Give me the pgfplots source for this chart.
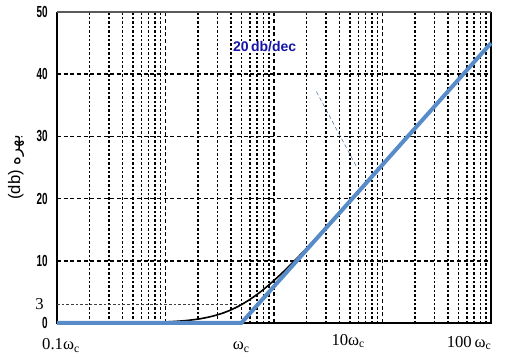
\documentclass[border=0pt]{standalone}
\usepackage{pgfplots}
\pgfplotsset{compat=1.18}
\usepackage{fontspec}
\setmainfont{Liberation Serif}
\setsansfont{Liberation Sans}
\newfontfamily\arabicfont[Script=Arabic]{DejaVu Sans}
\TeXXeTstate=1
\definecolor{bodeblue}{RGB}{88,140,200}
\definecolor{txtblue}{RGB}{20,20,170}
\newcommand\yl[1]{\scalebox{0.62}[1]{\sffamily\bfseries #1}}
\newcommand\wc{ω\textsubscript{c}}
\begin{document}
\begin{tikzpicture}
\begin{axis}[name=ax, scale only axis, width=325.5pt, height=233.25pt,
  xmode=log, xmin=1, xmax=10000, ymin=0, ymax=50, clip=false,
  axis line style={draw=none},
  xtick={1,10,100,1000,10000}, xticklabels={},
  minor xtick={2,3,4,5,6,7,8,9,20,30,40,50,60,70,80,90,200,300,400,500,600,700,800,900,2000,3000,4000,5000,6000,7000,8000,9000},
  ytick={0,10,20,30,40,50},
  yticklabels={\yl{0},\yl{10},\yl{20},\yl{30},\yl{40},\yl{50}},
  yticklabel style={font=\fontsize{12}{14}\selectfont, anchor=east, inner sep=0pt, xshift=-6.75pt},
  xmajorgrids, xminorgrids, ymajorgrids,
  major grid style={black, line width=1.3pt, dash pattern=on 3pt off 2pt},
  minor grid style={black, line width=1.1pt, dash pattern=on 1.8pt off 1.5pt},
  major tick length=0pt, minor tick length=0pt,
  extra x ticks={1.09,50,484,6280},
  extra x tick labels={0.1\wc,\wc,\raisebox{3.4pt}{10\wc},\raisebox{1.9pt}{100\,\wc}},
  extra x tick style={grid=none, major tick length=0pt,
    xticklabel style={font=\fontsize{12.5}{14}\selectfont, anchor=base, inner sep=0pt, yshift=-20.25pt}},
  extra y ticks={3},
  extra y tick labels={3},
  extra y tick style={grid=none, major tick length=0pt,
    yticklabel style={font=\fontsize{12.5}{14}\selectfont, anchor=east, inner sep=0pt, xshift=-3pt}},
]
\draw[line width=1.4pt, black] (rel axis cs:0,1) -- (rel axis cs:0,0) -- (rel axis cs:1,0) -- (rel axis cs:1,1);
\draw[line width=1.4pt, black!65] (rel axis cs:0,1) -- (rel axis cs:1,1);
\addplot[black!75, line width=0.4pt, dash pattern=on 2pt off 1.5pt] coordinates {(1,3) (48,3)};
\addplot[black, line width=1.2pt, smooth] coordinates {
  (5,0.04) (10,0.17) (15,0.37) (20,0.63) (25,0.95) (30,1.31) (35,1.69) (40,2.10)
  (45,2.52) (50,2.94) (60,3.79) (70,4.61) (80,5.39) (100,6.84) (125,8.41)
  (150,9.78) (200,12.03) (300,15.34) (500,19.60) (1000,25.46) (2000,31.34)
  (5000,39.12) (10000,45.01)};
\addplot[bodeblue, line width=3pt] coordinates {(1,0) (50,0) (10000,45)};
\draw[bodeblue!80!black, line width=0.4pt, densely dashed] (axis cs:246,37.2) -- (axis cs:586,24.9);
\node[fill=white, inner sep=0.5pt, font=\fontsize{10.5}{12}\selectfont\sffamily\bfseries, text=txtblue] at (axis cs:82,44.4) {20\,db/dec};
\end{axis}
\node[rotate=90, anchor=center, font=\fontsize{12.5}{14}\selectfont\sffamily] at ([xshift=-30.75pt]ax.west) {(db) {\arabicfont\beginR بهره\endR}};
\pgfresetboundingbox
\path ([shift={(-42.75pt,-27pt)}]ax.south west) rectangle ([shift={(16.5pt,9pt)}]ax.north east);
\end{tikzpicture}
\end{document}
